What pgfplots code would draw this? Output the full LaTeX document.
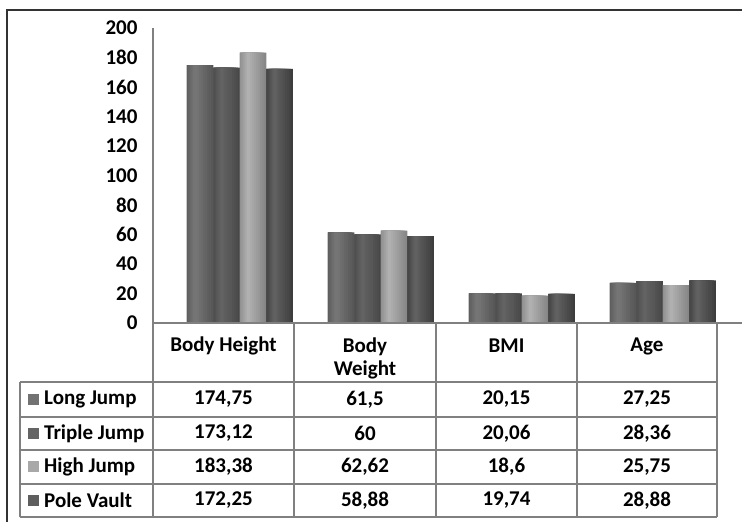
\documentclass[border=0pt]{standalone}
\usepackage{pgfplots}
\usepackage{pgfplotstable}
\pgfplotsset{compat=1.18}
\usepackage{fontspec}
\setmainfont{Carlito}
\newcommand\tf{\bfseries\fontsize{21}{23}\selectfont}

% legend colours
\definecolor{ljM}{HTML}{727272}
\definecolor{tjM}{HTML}{646464}
\definecolor{hjM}{HTML}{A8A8A8}
\definecolor{pvM}{HTML}{5E5E5E}
\definecolor{gridgray}{HTML}{808080}

% group centre (category units) and values
\pgfplotstableread{
x     LJ     TJ     HJ     PV
0.617 174.75 173.12 183.38 172.25
1.617 61.5   60     62.62  58.88
2.617 20.15  20.06  18.6   19.74
3.617 27.25  28.36  25.75  28.88
}\data

% one bar drawn as 9 nested layers, lighter towards the left third,
% giving the cylinder-like shading of the original
% #1 column, #2 series index, #3 base grey (percent black), #4 amplitude
\newcommand\layers[4]{%
  \pgfplotsinvokeforeach{0,...,8}{%
    \pgfmathsetmacro\layA{{0,0,0,0.043,0.086,0.129,0.171,0.214,0.257}[##1]}%
    \pgfmathsetmacro\layB{{1,0.922,0.844,0.767,0.689,0.611,0.533,0.456,0.378}[##1]}%
    \pgfmathtruncatemacro\layP{#3+#4*{11,9,7,5,3,1,-1,-3,-5}[##1]/11}%
    \pgfmathsetmacro\layW{(\layB-\layA)*26.5}%
    \pgfmathsetmacro\layS{(#2-1.5)*26.5+((\layA+\layB)/2-0.5)*26.5}%
    \edef\tmp{\noexpand\addplot[ybar, fill=black!\layP, draw=none,
      bar width=\layW pt, bar shift=\layS pt, forget plot]
      table[x=x, y=#1]{\noexpand\data};}%
    \tmp
  }}

\begin{document}
\begin{tikzpicture}[x=1pt,y=1pt]
\path[use as bounding box] (0,0) rectangle (742,522);

% outer frame
\draw[line width=1.2pt, black!80] (7,0) -- (7,512) -- (742,512);

\begin{axis}[
    at={(153pt,199pt)}, anchor=south west,
    scale only axis,
    width=564pt, height=295pt,
    xmin=0, xmax=4, ymin=0, ymax=200,
    axis x line=none,
    axis y line*=left,
    axis line style={-, draw=gridgray, line width=1.2pt},
    ytick={0,20,...,200},
    xtick=\empty,
    major tick length=0pt,
    /pgf/number format/assume math mode=true,
    yticklabel style={font=\tf, xshift=-12pt},
    clip=false,
]
    \layers{LJ}{0}{58}{8}   % Long Jump
    \layers{TJ}{1}{65}{7}   % Triple Jump
    \layers{HJ}{2}{36}{11}  % High Jump
    \layers{PV}{3}{67}{9}   % Pole Vault
\end{axis}

% data table
\begin{scope}[draw=gridgray, line width=1.2pt]
  \draw (153,199) -- (742,199);
  \foreach \x in {153,294,436,577,717} \draw (\x,199) -- (\x,5);
  \foreach \y in {140,105,72,38,5} \draw (20,\y) -- (717,\y);
  \draw (20,140) -- (20,5);
\end{scope}

% header
\node[font=\tf] at (223.5,176) {Body Height};
\node[font=\tf, align=center] at (365,164) {Body\\Weight};
\node[font=\tf] at (506.5,176) {BMI};
\node[font=\tf] at (647,176) {Age};

% legend column
\fill[ljM] (28,117) rectangle (39,128);
\fill[tjM] (28,83) rectangle (39,94);
\fill[hjM] (28,49.5) rectangle (39,60.5);
\fill[pvM] (28,16) rectangle (39,27);
\node[font=\tf, anchor=west, inner sep=0pt] at (44,122.5) {Long Jump};
\node[font=\tf, anchor=west, inner sep=0pt] at (44,88.5) {Triple Jump};
\node[font=\tf, anchor=west, inner sep=0pt] at (44,55) {High Jump};
\node[font=\tf, anchor=west, inner sep=0pt] at (44,21.5) {Pole Vault};

% values
\node[font=\tf] at (223.5,122.5) {174,75};
\node[font=\tf] at (365,122.5) {61,5};
\node[font=\tf] at (506.5,122.5) {20,15};
\node[font=\tf] at (647,122.5) {27,25};

\node[font=\tf] at (223.5,88.5) {173,12};
\node[font=\tf] at (365,88.5) {60};
\node[font=\tf] at (506.5,88.5) {20,06};
\node[font=\tf] at (647,88.5) {28,36};

\node[font=\tf] at (223.5,55) {183,38};
\node[font=\tf] at (365,55) {62,62};
\node[font=\tf] at (506.5,55) {18,6};
\node[font=\tf] at (647,55) {25,75};

\node[font=\tf] at (223.5,21.5) {172,25};
\node[font=\tf] at (365,21.5) {58,88};
\node[font=\tf] at (506.5,21.5) {19,74};
\node[font=\tf] at (647,21.5) {28,88};
\end{tikzpicture}
\end{document}
